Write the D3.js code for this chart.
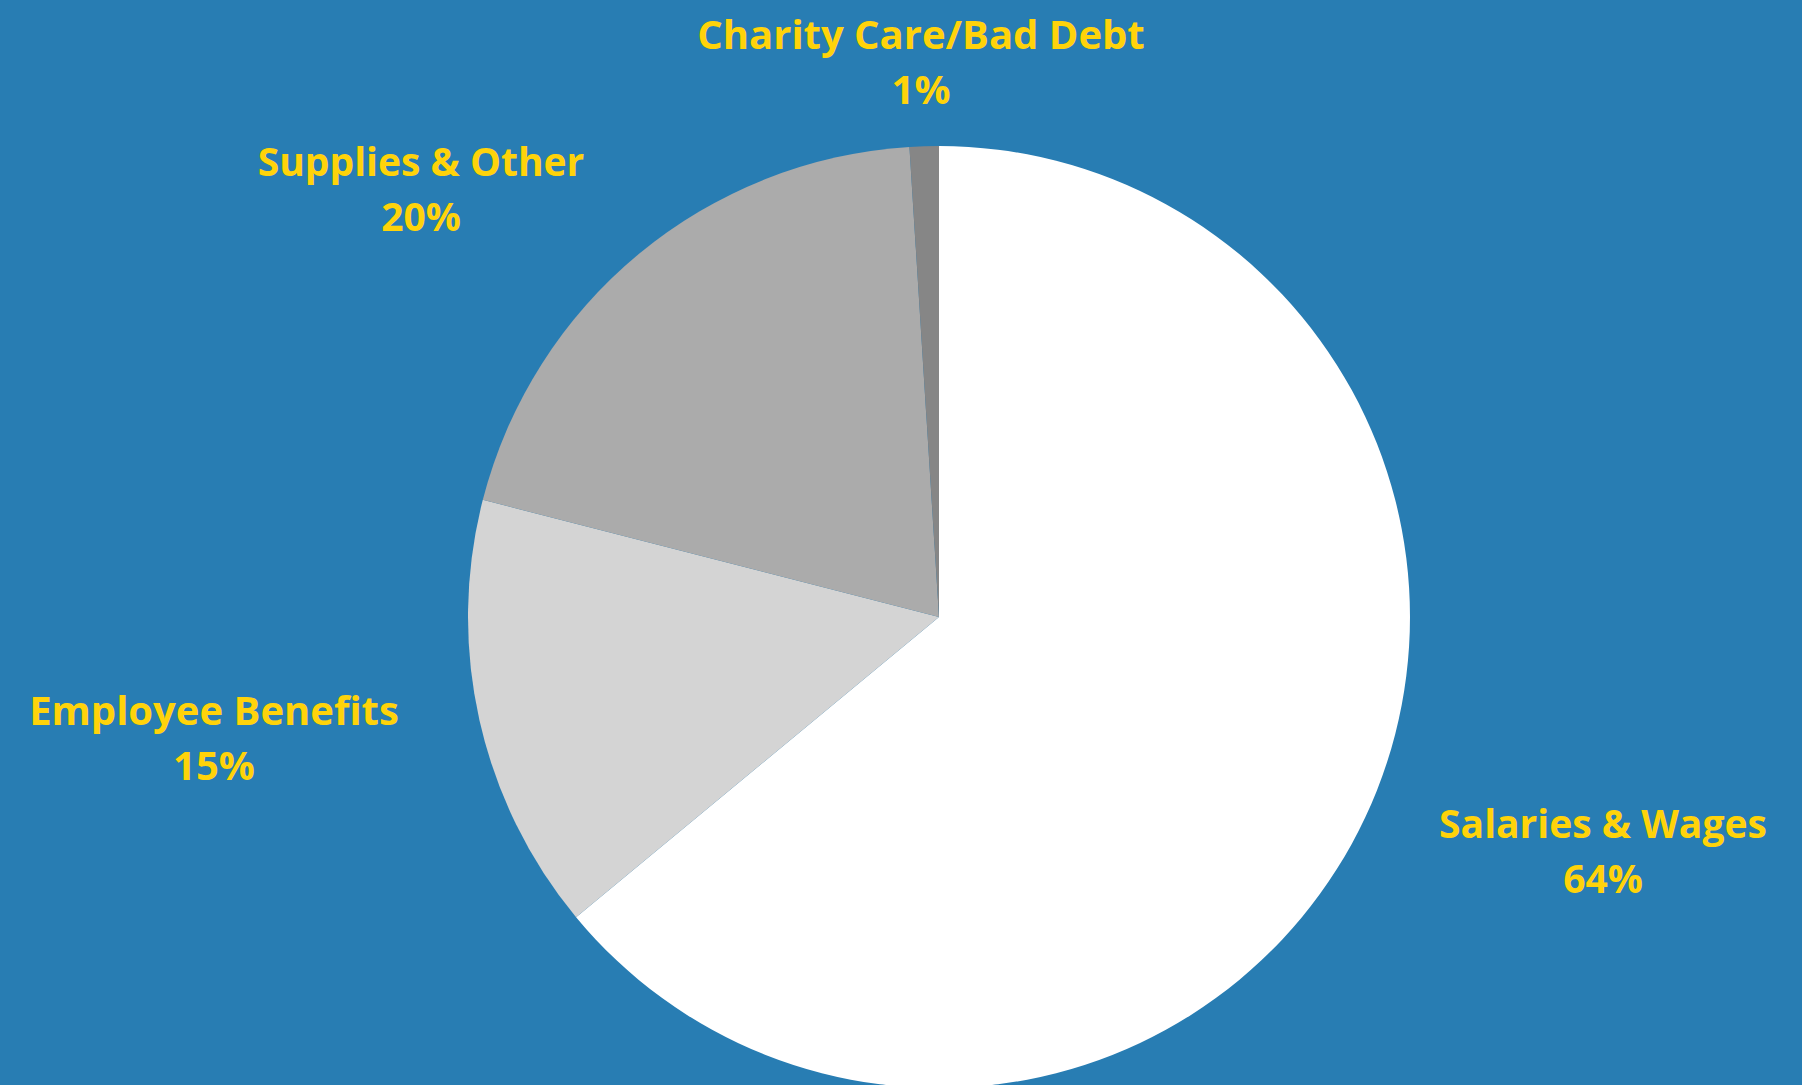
<!DOCTYPE html>
<html>
<head>
<meta charset="utf-8">
<script src="https://cdn.jsdelivr.net/npm/d3@7"></script>
<style>
  html, body { margin: 0; padding: 0; background: #287db3; overflow: hidden; }
  .label { font-family: "Open Sans", Roboto, sans-serif; font-weight: 700; fill: #ffd30a; }
</style>
</head>
<body>
<div id="chart"></div>
<script>
// Data
// ================================
var categories = ["Salaries & Wages", "Employee Benefits", "Supplies & Other", "Charity Care/Bad Debt"];
var shares = [64, 15, 20, 1];
var percentLabels = ["64%", "15%", "20%", "1%"];

// Styling
// ================================
var sliceColors = ["#ffffff", "#d4d4d4", "#ababab", "#868686"];
// label centre, relative to the pie centre
var labelOffsets = [[664, 221], [-725, 108], [-518, -441], [-18, -568]];
var labelSizes = [39, 40, 39, 40];

var svgWidth = 1802;
var svgHeight = 1085;
var cx = 939;
var cy = 617;
var radius = 471;
var lineGap = 55;

var svg = d3.select("#chart")
    .append("svg")
    .attr("width", svgWidth)
    .attr("height", svgHeight);

svg.append("rect")
    .attr("width", svgWidth)
    .attr("height", svgHeight)
    .attr("fill", "#287db3");

var chartGroup = svg.append("g")
    .attr("transform", `translate(${cx}, ${cy})`);

var pieData = categories.map((c, i) => ({ name: c, value: shares[i], pct: percentLabels[i], idx: i }));

var pie = d3.pie()
    .sort(null)
    .value(d => d.value);

var arc = d3.arc()
    .innerRadius(0)
    .outerRadius(radius);

var arcs = pie(pieData);

chartGroup.selectAll("path.slice")
    .data(arcs)
    .enter()
    .append("path")
    .attr("class", "slice")
    .attr("d", arc)
    .attr("fill", d => sliceColors[d.data.idx]);

// labels
var labels = chartGroup.selectAll("text.label")
    .data(arcs)
    .enter()
    .append("text")
    .attr("class", "label")
    .attr("text-anchor", "middle")
    .attr("font-size", d => labelSizes[d.data.idx])
    .attr("transform", d => `translate(${labelOffsets[d.data.idx][0]}, ${labelOffsets[d.data.idx][1]})`);

labels.append("tspan")
    .attr("x", 0)
    .attr("y", 0)
    .text(d => d.data.name);

labels.append("tspan")
    .attr("x", 0)
    .attr("y", lineGap)
    .text(d => d.data.pct);
</script>
</body>
</html>
